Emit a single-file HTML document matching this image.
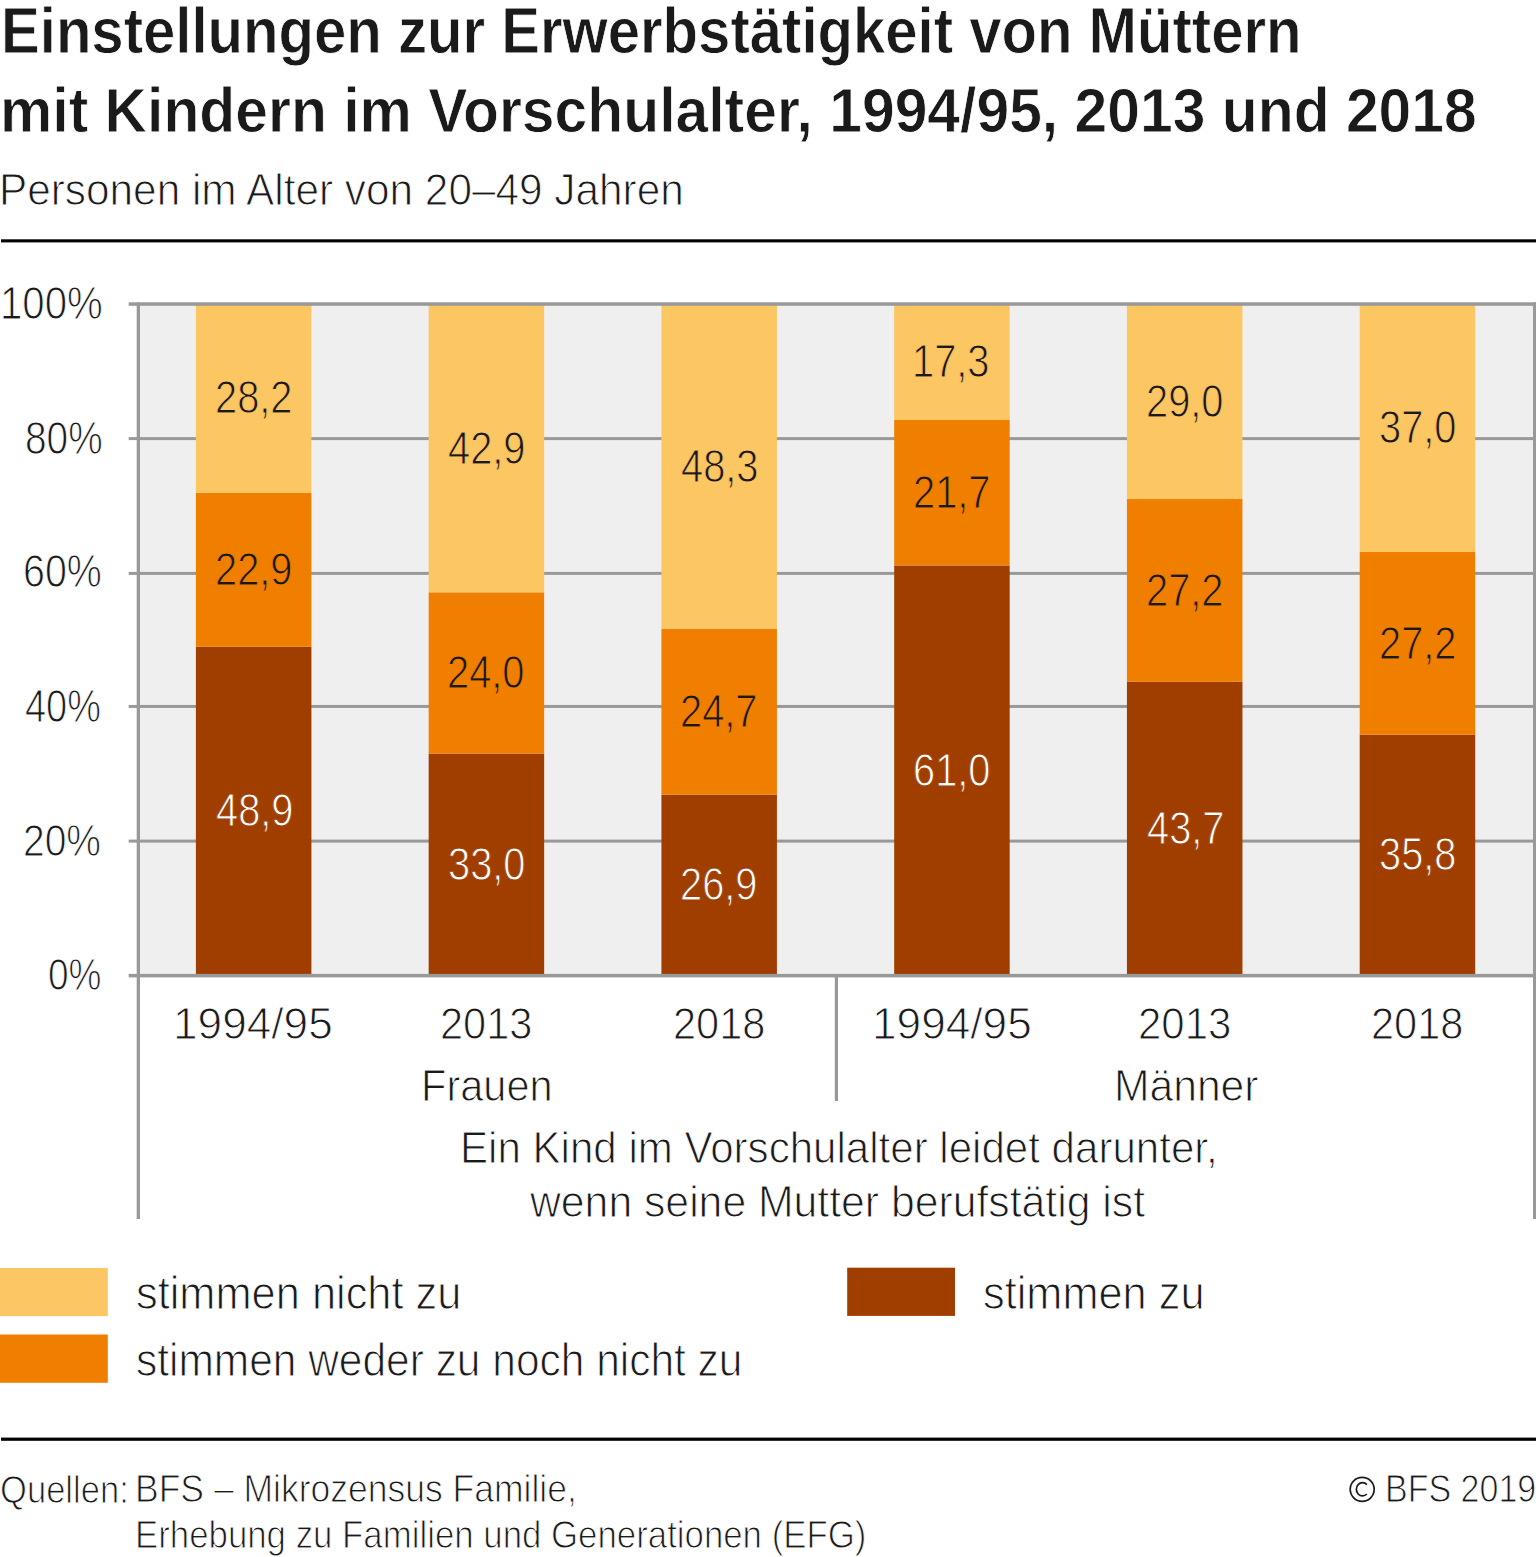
<!DOCTYPE html>
<html><head><meta charset="utf-8"><style>
html,body{margin:0;padding:0;background:#fff;}
body{width:1536px;height:1557px;position:relative;overflow:hidden;font-family:"Liberation Sans",sans-serif;color:#1a1a1a;}
svg{position:absolute;left:0;top:0;}
.t{position:absolute;white-space:nowrap;transform-origin:0 0;}
</style></head><body>
<svg width="1536" height="1557" viewBox="0 0 1536 1557">
<rect x="138.3" y="304.0" width="1396.2" height="671.8" fill="#efefef"/>
<rect x="128.7" y="839.60" width="1405.80" height="3" fill="#999999"/>
<rect x="128.7" y="704.95" width="1405.80" height="3" fill="#999999"/>
<rect x="128.7" y="571.90" width="1405.80" height="3" fill="#999999"/>
<rect x="128.7" y="437.10" width="1405.80" height="3" fill="#999999"/>
<rect x="195.90" y="646.77" width="115.5" height="328.63" fill="#a03e00"/>
<rect x="195.90" y="492.87" width="115.5" height="153.90" fill="#f07f00"/>
<rect x="195.90" y="303.35" width="115.5" height="189.52" fill="#fcc662"/>
<rect x="428.66" y="753.62" width="115.5" height="221.78" fill="#a03e00"/>
<rect x="428.66" y="592.33" width="115.5" height="161.29" fill="#f07f00"/>
<rect x="428.66" y="304.02" width="115.5" height="288.31" fill="#fcc662"/>
<rect x="661.42" y="794.62" width="115.5" height="180.78" fill="#a03e00"/>
<rect x="661.42" y="628.62" width="115.5" height="166.00" fill="#f07f00"/>
<rect x="661.42" y="304.02" width="115.5" height="324.60" fill="#fcc662"/>
<rect x="894.18" y="565.45" width="115.5" height="409.95" fill="#a03e00"/>
<rect x="894.18" y="419.61" width="115.5" height="145.83" fill="#f07f00"/>
<rect x="894.18" y="303.35" width="115.5" height="116.26" fill="#fcc662"/>
<rect x="1126.94" y="681.71" width="115.5" height="293.69" fill="#a03e00"/>
<rect x="1126.94" y="498.92" width="115.5" height="182.80" fill="#f07f00"/>
<rect x="1126.94" y="304.02" width="115.5" height="194.89" fill="#fcc662"/>
<rect x="1359.70" y="734.81" width="115.5" height="240.59" fill="#a03e00"/>
<rect x="1359.70" y="552.01" width="115.5" height="182.80" fill="#f07f00"/>
<rect x="1359.70" y="303.35" width="115.5" height="248.66" fill="#fcc662"/>
<rect x="128.7" y="302.30" width="1408.80" height="3.5" fill="#999999"/>
<rect x="128.7" y="973.90" width="1408.80" height="3.5" fill="#999999"/>
<rect x="136.70" y="302.40" width="3.3" height="916.60" fill="#999999"/>
<rect x="1533" y="302.40" width="3.5" height="916.60" fill="#999999"/>
<rect x="834.80" y="975.80" width="3.2" height="125.20" fill="#999999"/>
<rect x="1" y="239.3" width="1535" height="3.1" fill="#000"/>
<rect x="1" y="1437.6" width="1535" height="3.2" fill="#000"/>
<rect x="0" y="1268" width="107.8" height="48.1" fill="#fcc662"/>
<rect x="0" y="1334.5" width="107.8" height="48.3" fill="#f07f00"/>
<circle cx="1362.2" cy="1489.3" r="12" fill="none" stroke="#1a1a1a" stroke-width="1.7"/>
<path d="M1366.9 1484.6 A6.2 6.6 0 1 0 1366.9 1494.0" fill="none" stroke="#1a1a1a" stroke-width="1.7"/>
<rect x="847.2" y="1267.7" width="107.8" height="48.2" fill="#a03e00"/>
</svg>
<div class="t" style="left:1.03px;top:-0.99px;font-size:64.33px;line-height:64.33px;font-weight:bold;-webkit-text-stroke:0.8px #ffffff;transform:scaleX(0.9029);">Einstellungen zur Erwerbstätigkeit von Müttern</div>
<div class="t" style="left:-0.23px;top:78.95px;font-size:63.46px;line-height:63.46px;font-weight:bold;-webkit-text-stroke:0.8px #ffffff;transform:scaleX(0.9271);">mit Kindern im Vorschulalter, 1994/95, 2013 und 2018</div>
<div class="t" style="left:-0.73px;top:167.42px;font-size:45.06px;line-height:45.06px;-webkit-text-stroke:1.0px #ffffff;transform:scaleX(0.9397);">Personen im Alter von 20–49 Jahren</div>
<div class="t" style="left:48.36px;top:951.75px;font-size:45.20px;line-height:45.20px;-webkit-text-stroke:1.0px #ffffff;transform:scaleX(0.8198);">0%</div>
<div class="t" style="left:23.16px;top:817.72px;font-size:45.06px;line-height:45.06px;-webkit-text-stroke:1.0px #ffffff;transform:scaleX(0.8648);">20%</div>
<div class="t" style="left:25.08px;top:683.58px;font-size:45.49px;line-height:45.49px;-webkit-text-stroke:1.0px #ffffff;transform:scaleX(0.8335);">40%</div>
<div class="t" style="left:23.16px;top:549.22px;font-size:45.49px;line-height:45.49px;-webkit-text-stroke:1.0px #ffffff;transform:scaleX(0.8664);">60%</div>
<div class="t" style="left:24.65px;top:414.84px;font-size:46.22px;line-height:46.22px;-webkit-text-stroke:1.0px #ffffff;transform:scaleX(0.8393);">80%</div>
<div class="t" style="left:-0.41px;top:280.14px;font-size:46.22px;line-height:46.22px;-webkit-text-stroke:1.0px #ffffff;transform:scaleX(0.8694);">100%</div>
<div class="t" style="left:215.90px;top:788.43px;font-size:45.40px;line-height:45.40px;color:#ffffff;-webkit-text-stroke:1.0px #a03e00;transform:scaleX(0.8770);">48,9</div>
<div class="t" style="left:214.90px;top:547.17px;font-size:45.40px;line-height:45.40px;-webkit-text-stroke:1.0px #f07f00;transform:scaleX(0.8770);">22,9</div>
<div class="t" style="left:214.90px;top:375.46px;font-size:45.40px;line-height:45.40px;-webkit-text-stroke:1.0px #fcc662;transform:scaleX(0.8770);">28,2</div>
<div class="t" style="left:447.96px;top:841.86px;font-size:45.40px;line-height:45.40px;color:#ffffff;-webkit-text-stroke:1.0px #a03e00;transform:scaleX(0.8770);">33,0</div>
<div class="t" style="left:447.46px;top:650.33px;font-size:45.40px;line-height:45.40px;-webkit-text-stroke:1.0px #f07f00;transform:scaleX(0.8770);">24,0</div>
<div class="t" style="left:448.46px;top:425.53px;font-size:45.40px;line-height:45.40px;-webkit-text-stroke:1.0px #fcc662;transform:scaleX(0.8770);">42,9</div>
<div class="t" style="left:680.02px;top:862.36px;font-size:45.40px;line-height:45.40px;color:#ffffff;-webkit-text-stroke:1.0px #a03e00;transform:scaleX(0.8770);">26,9</div>
<div class="t" style="left:680.02px;top:688.97px;font-size:45.40px;line-height:45.40px;-webkit-text-stroke:1.0px #f07f00;transform:scaleX(0.8770);">24,7</div>
<div class="t" style="left:681.02px;top:443.67px;font-size:45.40px;line-height:45.40px;-webkit-text-stroke:1.0px #fcc662;transform:scaleX(0.8770);">48,3</div>
<div class="t" style="left:912.58px;top:747.77px;font-size:45.40px;line-height:45.40px;color:#ffffff;-webkit-text-stroke:1.0px #a03e00;transform:scaleX(0.8770);">61,0</div>
<div class="t" style="left:912.58px;top:469.88px;font-size:45.40px;line-height:45.40px;-webkit-text-stroke:1.0px #f07f00;transform:scaleX(0.8770);">21,7</div>
<div class="t" style="left:912.08px;top:338.83px;font-size:45.40px;line-height:45.40px;-webkit-text-stroke:1.0px #fcc662;transform:scaleX(0.8770);">17,3</div>
<div class="t" style="left:1147.14px;top:805.91px;font-size:45.40px;line-height:45.40px;color:#ffffff;-webkit-text-stroke:1.0px #a03e00;transform:scaleX(0.8770);">43,7</div>
<div class="t" style="left:1146.14px;top:567.67px;font-size:45.40px;line-height:45.40px;-webkit-text-stroke:1.0px #f07f00;transform:scaleX(0.8770);">27,2</div>
<div class="t" style="left:1146.14px;top:378.82px;font-size:45.40px;line-height:45.40px;-webkit-text-stroke:1.0px #fcc662;transform:scaleX(0.8770);">29,0</div>
<div class="t" style="left:1379.20px;top:832.45px;font-size:45.40px;line-height:45.40px;color:#ffffff;-webkit-text-stroke:1.0px #a03e00;transform:scaleX(0.8770);">35,8</div>
<div class="t" style="left:1378.70px;top:620.76px;font-size:45.40px;line-height:45.40px;-webkit-text-stroke:1.0px #f07f00;transform:scaleX(0.8770);">27,2</div>
<div class="t" style="left:1379.20px;top:405.03px;font-size:45.40px;line-height:45.40px;-webkit-text-stroke:1.0px #fcc662;transform:scaleX(0.8770);">37,0</div>
<div class="t" style="left:172.98px;top:1000.82px;font-size:45.06px;line-height:45.06px;-webkit-text-stroke:1.0px #ffffff;transform:scaleX(0.9808);">1994/95</div>
<div class="t" style="left:439.92px;top:1000.82px;font-size:45.06px;line-height:45.06px;-webkit-text-stroke:1.0px #ffffff;transform:scaleX(0.9211);">2013</div>
<div class="t" style="left:672.50px;top:1000.82px;font-size:45.06px;line-height:45.06px;-webkit-text-stroke:1.0px #ffffff;transform:scaleX(0.9211);">2018</div>
<div class="t" style="left:871.66px;top:1000.82px;font-size:45.06px;line-height:45.06px;-webkit-text-stroke:1.0px #ffffff;transform:scaleX(0.9808);">1994/95</div>
<div class="t" style="left:1137.62px;top:1000.82px;font-size:45.06px;line-height:45.06px;-webkit-text-stroke:1.0px #ffffff;transform:scaleX(0.9309);">2013</div>
<div class="t" style="left:1371.15px;top:1000.82px;font-size:45.06px;line-height:45.06px;-webkit-text-stroke:1.0px #ffffff;transform:scaleX(0.9211);">2018</div>
<div class="t" style="left:420.53px;top:1062.82px;font-size:45.06px;line-height:45.06px;-webkit-text-stroke:1.0px #ffffff;transform:scaleX(0.9222);">Frauen</div>
<div class="t" style="left:1113.99px;top:1063.54px;font-size:44.62px;line-height:44.62px;-webkit-text-stroke:1.0px #ffffff;transform:scaleX(0.9555);">Männer</div>
<div class="t" style="left:459.68px;top:1124.97px;font-size:44.77px;line-height:44.77px;-webkit-text-stroke:1.0px #ffffff;transform:scaleX(0.9398);">Ein Kind im Vorschulalter leidet darunter,</div>
<div class="t" style="left:530.04px;top:1180.48px;font-size:44.33px;line-height:44.33px;-webkit-text-stroke:1.0px #ffffff;transform:scaleX(0.9638);">wenn seine Mutter berufstätig ist</div>
<div class="t" style="left:135.54px;top:1270.94px;font-size:45.82px;line-height:45.82px;-webkit-text-stroke:1.0px #ffffff;transform:scaleX(0.9466);">stimmen nicht zu</div>
<div class="t" style="left:135.58px;top:1338.31px;font-size:45.68px;line-height:45.68px;-webkit-text-stroke:1.0px #ffffff;transform:scaleX(0.9296);">stimmen weder zu noch nicht zu</div>
<div class="t" style="left:983.10px;top:1270.88px;font-size:45.54px;line-height:45.54px;-webkit-text-stroke:1.0px #ffffff;transform:scaleX(0.9515);">stimmen zu</div>
<div class="t" style="left:-0.40px;top:1470.53px;font-size:38.24px;line-height:38.24px;-webkit-text-stroke:1.0px #ffffff;transform:scaleX(0.9044);">Quellen:</div>
<div class="t" style="left:135.31px;top:1470.39px;font-size:38.52px;line-height:38.52px;-webkit-text-stroke:1.0px #ffffff;transform:scaleX(0.9214);">BFS – Mikrozensus Familie,</div>
<div class="t" style="left:135.36px;top:1516.34px;font-size:38.23px;line-height:38.23px;-webkit-text-stroke:1.0px #ffffff;transform:scaleX(0.9108);">Erhebung zu Familien und Generationen (EFG)</div>
<div class="t" style="left:1385.08px;top:1470.45px;font-size:38.81px;line-height:38.81px;-webkit-text-stroke:1.0px #ffffff;transform:scaleX(0.8766);">BFS 2019</div>
</body></html>
